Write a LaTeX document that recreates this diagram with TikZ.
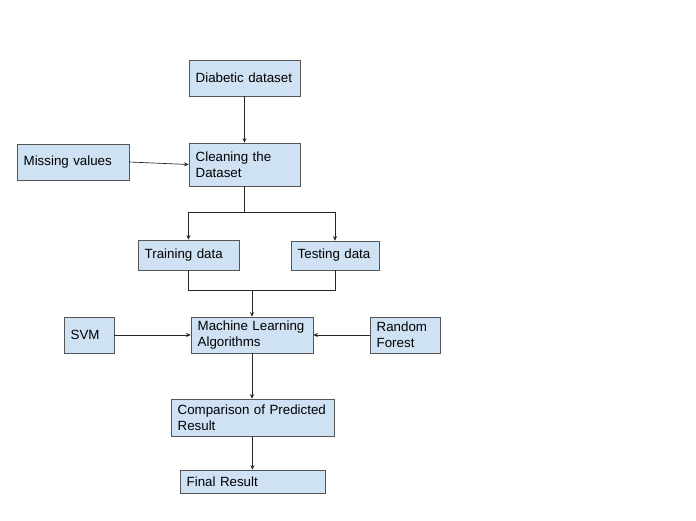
\documentclass[tikz,border=0pt]{standalone}
\usepackage{fontspec}
\setmainfont{Liberation Sans}
\usetikzlibrary{arrows.meta}
\definecolor{boxblue}{HTML}{CFE2F3}
\definecolor{boxline}{HTML}{555555}

\begin{document}
\begin{tikzpicture}[x=0.75pt,y=-0.75pt,
  box/.style={draw=boxline,fill=boxblue,inner xsep=5pt,inner ysep=2pt,
    align=left,font=\fontsize{10}{12}\selectfont},
  link/.style={draw=black!85,line width=0.5pt,-{Stealth[length=3.5pt,width=3pt]}},
  wire/.style={draw=black!85,line width=0.5pt}]
\useasboundingbox[fill=white] (0,0) rectangle (696,521);
\node[box,text width=73.25pt,minimum height=36*0.75pt] (data) at (244.5,78) {Diabetic dataset};
\node[box,text width=73.25pt,minimum height=43*0.75pt] (clean) at (244.5,164.5) {Cleaning the\\Dataset};
\node[box,text width=74pt,minimum height=36*0.75pt] (miss) at (73,162) {Missing values};
\node[box,text width=65.75pt,minimum height=30*0.75pt] (train) at (188.5,255) {Training data};
\node[box,text width=56pt,minimum height=29*0.75pt] (test) at (335,255.5) {Testing data};
\node[box,text width=81.5pt,minimum height=36*0.75pt] (mla) at (252,335) {Machine Learning\\Algorithms};
\node[box,text width=27.5pt,minimum height=36*0.75pt] (svm) at (89,335) {SVM};
\node[box,text width=42.5pt,minimum height=36*0.75pt] (rf) at (405,335) {Random\\Forest};
\node[box,text width=112.25pt,minimum height=37*0.75pt] (cmp) at (252.5,417.5) {Comparison of Predicted\\Result};
\node[box,text width=98.75pt,minimum height=23*0.75pt] (final) at (252.5,481.5) {Final Result};
\coordinate (split) at (244.5,212);
\coordinate (merge) at (252,290);
\draw[link] (data) -- (clean);
\draw[link] (miss.east) -- (clean.west);
\draw[wire] (clean) -- (split);
\draw[link] (split) -| (train.north);
\draw[link] (split) -| (test.north);
\draw[wire] (train.south) |- (merge);
\draw[wire] (test.south) |- (merge);
\draw[link] (merge) -- (mla);
\draw[link] (svm) -- (mla);
\draw[link] (rf) -- (mla);
\draw[link] (mla.south) -- (mla.south |- cmp.north);
\draw[link] (cmp.south -| final.north) -- (final.north);
\end{tikzpicture}
\end{document}
